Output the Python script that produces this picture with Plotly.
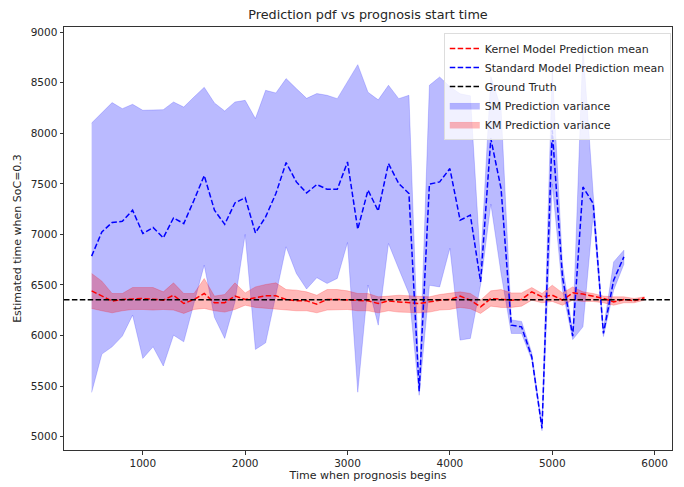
import plotly.graph_objects as go

# ---------------- data ----------------
x_all = list(range(500, 6000, 100))          # prognosis start times (KM)
x_sm = list(range(500, 5800, 100))           # SM stops at 5700

sm_mean = [6785, 7025, 7117, 7130, 7239, 7009, 7068, 6966, 7163, 7107,
           7338, 7582, 7239, 7100, 7311, 7364, 7015, 7173, 7404, 7710,
           7519, 7410, 7493, 7446, 7446, 7716, 7051, 7437, 7232, 7700,
           7503, 7404, 5450, 7496, 7519, 7651, 7140, 7190, 6531, 7947,
           7453, 6103, 6086, 5790, 5083, 8029, 6580, 5995, 7469, 7305,
           6021, 6548, 6778]
sm_upper = [8101, 8200, 8303, 8243, 8286, 8227, 8233, 8233, 8309, 8259,
            8358, 8454, 8299, 8220, 8309, 8325, 8145, 8424, 8398, 8540,
            8441, 8345, 8392, 8375, 8342, 8510, 8678, 8405, 8330, 8474,
            8342, 8375, 5520, 8474, 8556, 8460, 8390, 8370, 6700, 8560,
            8250, 6155, 6140, 5830, 5110, 8650, 6700, 6040, 8860, 7400,
            6060, 6728, 6844]
sm_lower = [5438, 5817, 5889, 5995, 6202, 5774, 5889, 5699, 6004, 5938,
            6320, 6696, 6180, 5972, 6333, 7000, 5863, 5928, 6400, 6877,
            6614, 6460, 6572, 6515, 6565, 6920, 5440, 6500, 6103, 6910,
            6660, 6416, 5410, 6497, 6481, 6864, 5955, 5972, 6500, 7300,
            6614, 6021, 6021, 5760, 5059, 7500, 6450, 5960, 6086, 7200,
            5990, 6449, 6705]

km_mean = [6442, 6390, 6340, 6357, 6363, 6366, 6360, 6350, 6399, 6317,
           6357, 6416, 6324, 6324, 6390, 6357, 6373, 6393, 6393, 6357,
           6343, 6343, 6311, 6357, 6357, 6350, 6343, 6343, 6317, 6343,
           6333, 6324, 6317, 6333, 6350, 6357, 6390, 6350, 6284, 6367,
           6357, 6350, 6357, 6432, 6383, 6399, 6350, 6422, 6410, 6390,
           6367, 6333, 6357, 6343, 6373]
km_upper = [6614, 6538, 6416, 6416, 6475, 6475, 6475, 6432, 6521, 6416,
            6416, 6564, 6390, 6406, 6521, 6422, 6481, 6505, 6521, 6455,
            6449, 6432, 6399, 6455, 6455, 6442, 6416, 6416, 6383, 6390,
            6399, 6393, 6390, 6383, 6406, 6416, 6432, 6416, 6350, 6442,
            6455, 6422, 6422, 6475, 6416, 6498, 6422, 6481, 6432, 6416,
            6390, 6383, 6383, 6367, 6383]
km_lower = [6268, 6245, 6225, 6245, 6258, 6258, 6252, 6258, 6252, 6219,
            6258, 6268, 6245, 6232, 6258, 6300, 6278, 6268, 6258, 6252,
            6245, 6245, 6225, 6252, 6258, 6258, 6245, 6245, 6225, 6245,
            6232, 6225, 6225, 6232, 6252, 6258, 6278, 6265, 6219, 6291,
            6278, 6278, 6291, 6350, 6324, 6337, 6300, 6350, 6337, 6337,
            6324, 6300, 6324, 6324, 6350]

ground_truth = 6355

# ---------------- axis ranges (matplotlib-like 5% margins) ----------------
xmin, xmax = min(x_all), max(x_all)
xpad = 0.05 * (xmax - xmin)
x_range = [xmin - xpad, xmax + xpad]
all_y = sm_upper + sm_lower + sm_mean + km_upper + km_lower + km_mean
ymin, ymax = min(all_y), max(all_y)
ypad = 0.05 * (ymax - ymin)
y_range = [ymin - ypad, ymax + ypad]

dash = "5.5px,2.4px"
font = "DejaVu Sans"
W, H = 684, 487

fig = go.Figure()

# SM variance band
fig.add_trace(go.Scatter(
    x=x_sm + x_sm[::-1], y=sm_upper + sm_lower[::-1],
    fill="toself", fillcolor="rgba(0,0,255,0.27)",
    line=dict(color="rgba(0,0,255,0.18)", width=1),
    mode="lines", name="SM Prediction variance", legendrank=4,
    hoverinfo="skip"))

# KM variance band
fig.add_trace(go.Scatter(
    x=x_all + x_all[::-1], y=km_upper + km_lower[::-1],
    fill="toself", fillcolor="rgba(255,0,0,0.28)",
    line=dict(color="rgba(255,0,0,0.2)", width=1),
    mode="lines", name="KM Prediction variance", legendrank=5,
    hoverinfo="skip"))

fig.add_trace(go.Scatter(
    x=x_all, y=km_mean, mode="lines",
    line=dict(color="#ff0000", width=1.5, dash=dash),
    name="Kernel Model Prediction mean", legendrank=1))

fig.add_trace(go.Scatter(
    x=x_sm, y=sm_mean, mode="lines",
    line=dict(color="#0000ff", width=1.5, dash=dash),
    name="Standard Model Prediction mean", legendrank=2))

fig.add_trace(go.Scatter(
    x=x_range, y=[ground_truth, ground_truth], mode="lines",
    line=dict(color="#000000", width=1.5, dash=dash),
    name="Ground Truth", legendrank=3))

axis_common = dict(
    showgrid=False, zeroline=False, showline=True, linecolor="#333333",
    linewidth=1, mirror=True, ticks="outside", ticklen=3.5,
    tickcolor="#333333", tickfont=dict(family=font, size=10.5, color="#262626"),
    automargin=False,
)

fig.update_layout(
    width=W, height=H,
    margin=dict(l=64, r=12, t=27, b=37, autoexpand=False),
    paper_bgcolor="white", plot_bgcolor="white",
    font=dict(family=font, size=10, color="#262626"),
    title=dict(text="Prediction pdf vs prognosis start time",
               x=0.5, xref="paper", xanchor="center",
               y=1 - 14.5 / H, yref="container", yanchor="middle",
               font=dict(family=font, size=12.8, color="#262626"),
               automargin=False),
    xaxis=dict(range=x_range, tickvals=[1000, 2000, 3000, 4000, 5000, 6000],
               title=dict(text="Time when prognosis begins", standoff=3,
                          font=dict(family=font, size=11)),
               **axis_common),
    yaxis=dict(range=y_range,
               tickvals=[5000, 5500, 6000, 6500, 7000, 7500, 8000, 8500, 9000],
               title=dict(text="Estimated time when SoC=0.3", standoff=6,
                          font=dict(family=font, size=11)),
               **axis_common),
    legend=dict(x=0.998, xanchor="right", y=0.986, yanchor="top",
                bgcolor="rgba(255,255,255,0.8)", bordercolor="#dddddd",
                borderwidth=1, font=dict(family=font, size=11, color="#262626"),
                tracegroupgap=0, itemwidth=30),
    showlegend=True,
)

# remove the browser's default 8px body margin so the figure fills the window
fig.write_html("out.html",
               config={"displayModeBar": False},
               post_script="document.body.style.margin='0px';"
                           "document.body.style.overflow='hidden';")
